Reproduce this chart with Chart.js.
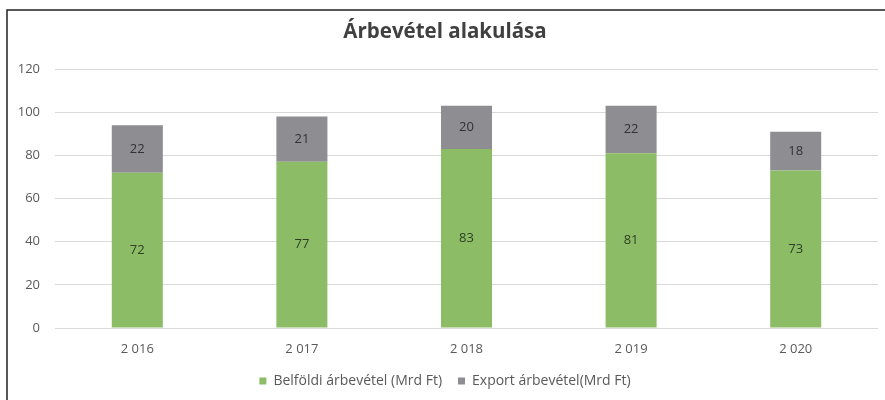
<!DOCTYPE html>
<html>
<head>
<meta charset="utf-8">
<script src="https://cdn.jsdelivr.net/npm/chart.js@4"></script>
<style>
  html, body { margin: 0; padding: 0; background: #fff; }
  #wrap { width: 885px; height: 400px; position: relative; }
</style>
</head>
<body>
<div id="wrap"><canvas id="revenue-chart"></canvas></div>
<script>
const years = ["2 016", "2 017", "2 018", "2 019", "2 020"];
const domesticRevenue = [72, 77, 83, 81, 73];
const exportRevenue = [22, 21, 20, 22, 18];
const yTicks = [0, 20, 40, 60, 80, 100, 120];

const FONT = "'Open Sans', 'Noto Sans', sans-serif";

// frame line on top and left side, like the source image
const framePlugin = {
  id: "frame",
  afterDraw(chart) {
    const ctx = chart.ctx;
    ctx.save();
    ctx.strokeStyle = "#222";
    ctx.lineWidth = 1.5;
    ctx.beginPath();
    ctx.moveTo(7, 400);
    ctx.lineTo(7, 10);
    ctx.lineTo(885, 10);
    ctx.stroke();
    ctx.restore();
  },
};

// values written in the middle of each stacked segment
const segmentLabels = {
  id: "segmentLabels",
  afterDatasetsDraw(chart) {
    const ctx = chart.ctx;
    ctx.save();
    ctx.font = "13px " + FONT;
    ctx.textAlign = "center";
    ctx.textBaseline = "middle";
    chart.data.datasets.forEach((ds, i) => {
      const meta = chart.getDatasetMeta(i);
      meta.data.forEach((bar, j) => {
        const mid = (bar.y + bar.base) / 2;
        ctx.fillStyle = ds.labelColor;
        ctx.fillText(ds.data[j], bar.x, mid);
      });
    });
    ctx.restore();
  },
};

new Chart(document.getElementById("revenue-chart").getContext("2d"), {
  type: "bar",
  data: {
    labels: years,
    datasets: [
      {
        label: "Belföldi árbevétel (Mrd Ft)",
        data: domesticRevenue,
        backgroundColor: "#8cbd66",
        labelColor: "#2f3f26",
      },
      {
        label: "Export árbevétel(Mrd Ft)",
        data: exportRevenue,
        backgroundColor: "#8d8d92",
        labelColor: "#333333",
      },
    ],
  },
  options: {
    responsive: true,
    maintainAspectRatio: false,
    animation: false,
    categoryPercentage: 1,
    barPercentage: 0.31,
    layout: { padding: { top: 20, right: 7, left: 12, bottom: 2 } },
    plugins: {
      title: {
        display: true,
        text: "Árbevétel alakulása",
        color: "#404040",
        font: { family: FONT, size: 20.5, weight: "bold" },
        padding: { top: 0, bottom: 24.5 },
      },
      legend: {
        display: true,
        position: "bottom",
        labels: {
          color: "#595959",
          font: { family: FONT, size: 14 },
          boxWidth: 7,
          boxHeight: 7,
          padding: 16,
        },
      },
      tooltip: { enabled: false },
    },
    scales: {
      x: {
        stacked: true,
        grid: { display: false, drawTicks: false },
        border: { display: false },
        afterFit: (scale) => {
          scale.height = 30;
        },
        ticks: {
          color: "#595959",
          font: { family: FONT, size: 13 },
          padding: 13,
        },
      },
      y: {
        stacked: true,
        min: 0,
        max: 120,
        afterBuildTicks: (scale) => {
          scale.ticks = yTicks.map((v) => ({ value: v }));
        },
        afterFit: (scale) => {
          scale.width = 43;
        },
        grid: { color: "#d9d9d9", lineWidth: 1, drawTicks: false },
        border: { display: false },
        ticks: {
          color: "#595959",
          font: { family: FONT, size: 13 },
          padding: 15,
        },
      },
    },
  },
  plugins: [framePlugin, segmentLabels],
});
</script>
</body>
</html>
